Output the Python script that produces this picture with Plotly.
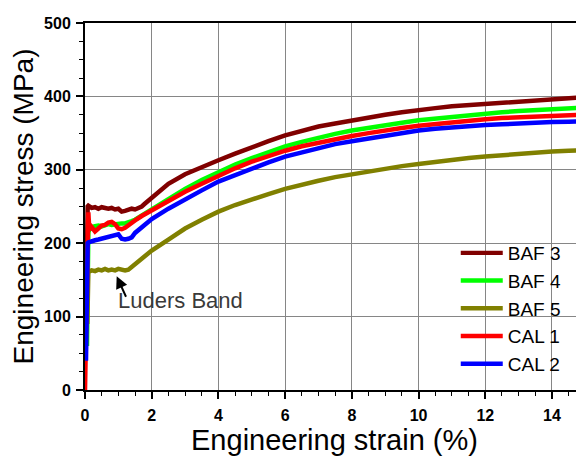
import plotly.graph_objects as go

# ---- data ----
baf3_x = [0.04, 0.05, 0.06, 0.08, 0.1, 0.2, 0.3, 0.4, 0.5, 0.6, 0.7, 0.8, 0.9, 1.0, 1.1, 1.2, 1.3, 1.4, 1.5, 1.6, 1.7, 1.8, 2.0, 2.25, 2.5, 3.0, 3.5, 4.0, 4.5, 5.0, 5.5, 6.0, 6.5, 7.0, 7.5, 8.0, 8.5, 9.0, 9.5, 10.0, 10.5, 11.0, 11.5, 12.0, 12.5, 13.0, 13.5, 14.0, 14.5, 15.0]
baf3_y = [120, 180, 230, 250, 251, 248, 249, 247, 249, 248, 247, 248, 246, 247, 243, 244, 245, 247, 246, 248, 250, 254, 262, 272, 281, 294, 304, 313, 322, 331, 339, 347, 353, 359, 363, 367.5, 371, 375, 378.5, 382, 384, 386.5, 388, 390, 392, 394, 395.5, 397, 398, 399]

baf4_x = [0.06, 0.07, 0.08, 0.1, 0.15, 0.2, 0.3, 0.4, 0.5, 0.6, 0.7, 0.8, 0.9, 1.0, 1.1, 1.2, 1.3, 1.4, 1.5, 1.7, 2.0, 2.5, 3.0, 3.5, 4.0, 4.5, 5.0, 5.5, 6.0, 6.5, 7.0, 7.5, 8.0, 8.5, 9.0, 9.5, 10.0, 10.5, 11.0, 11.5, 12.0, 12.5, 13.0, 13.5, 14.0, 14.5, 15.0]
baf4_y = [60, 140, 190, 215, 220, 222, 223, 224, 223, 225, 226, 225, 226, 226, 227, 227, 228, 230, 232, 238, 246, 260, 274, 286, 297, 307, 316, 324, 332, 338, 344, 349, 353.5, 357.5, 361, 364, 367.5, 370, 372.5, 375, 377, 378.5, 380, 381, 382, 383.5, 385]

baf5_x = [0.07, 0.08, 0.09, 0.1, 0.2, 0.3, 0.4, 0.5, 0.6, 0.7, 0.8, 0.9, 1.0, 1.1, 1.2, 1.3, 1.4, 1.5, 1.7, 2.0, 2.5, 3.0, 3.5, 4.0, 4.5, 5.0, 5.5, 6.0, 6.5, 7.0, 7.5, 8.0, 8.5, 9.0, 9.5, 10.0, 10.5, 11.0, 11.5, 12.0, 12.5, 13.0, 13.5, 14.0, 14.5, 15.0]
baf5_y = [90, 130, 155, 161, 163, 162, 164, 163, 165, 163, 164, 163, 165, 164, 163, 164, 168, 172, 180, 190, 205, 220, 232, 243, 252, 260, 267, 274, 280, 285, 290, 294, 298, 302, 305, 308, 311, 314, 316, 318, 320, 322, 323.5, 325, 326, 327]

cal1_x = [0.0, 0.02, 0.03, 0.05, 0.07, 0.09, 0.1, 0.12, 0.15, 0.2, 0.3, 0.4, 0.5, 0.6, 0.7, 0.8, 0.9, 1.0, 1.1, 1.2, 1.3, 1.4, 1.5, 1.7, 2.0, 2.5, 3.0, 3.5, 4.0, 4.5, 5.0, 5.5, 6.0, 6.5, 7.0, 7.5, 8.0, 8.5, 9.0, 9.5, 10.0, 10.5, 11.0, 11.5, 12.0, 12.5, 13.0, 13.5, 14.0, 14.5, 15.0]
cal1_y = [0, 40, 75, 150, 200, 235, 242, 226, 218, 222, 216, 220, 224, 225, 228, 229, 226, 220, 219, 221, 225, 228, 231, 237, 245, 258, 270, 281, 292, 302, 311, 319, 326, 332, 337, 342, 346, 350, 354, 357, 360, 362.5, 365, 367, 369, 370.5, 371.5, 372.5, 373, 374, 375]

cal2_x = [0.03, 0.04, 0.05, 0.06, 0.08, 0.1, 0.2, 0.3, 0.4, 0.5, 0.6, 0.7, 0.8, 0.9, 1.0, 1.1, 1.2, 1.3, 1.4, 1.5, 1.7, 2.0, 2.5, 3.0, 3.5, 4.0, 4.5, 5.0, 5.5, 6.0, 6.5, 7.0, 7.5, 8.0, 8.5, 9.0, 9.5, 10.0, 10.5, 11.0, 11.5, 12.0, 12.5, 13.0, 13.5, 14.0, 14.5, 15.0]
cal2_y = [40, 80, 150, 190, 200, 201, 203, 204, 205, 206, 207, 208, 209, 210, 212, 206, 205, 206, 208, 214, 221, 233, 247, 260, 272, 284, 293, 302, 310, 318, 324, 330, 335, 339, 343, 347, 350.5, 353.5, 356, 358, 359.5, 361, 362, 363.5, 364, 365, 365.5, 366]

series = [
    ("BAF 3", baf3_x, baf3_y, "#800000"),
    ("BAF 4", baf4_x, baf4_y, "#00FF00"),
    ("BAF 5", baf5_x, baf5_y, "#808000"),
    ("CAL 1", cal1_x, cal1_y, "#FF0000"),
    ("CAL 2", cal2_x, cal2_y, "#0000FF"),
]

FONT = "Arial, Liberation Sans, sans-serif"

fig = go.Figure()
for name, xs, ys, col in series:
    fig.add_trace(go.Scatter(x=xs, y=ys, mode="lines", name=name,
                             line=dict(color=col, width=4.5)))

# the page body has an 8px default margin, so the figure is sized 576x448
fig.update_layout(
    width=576, height=448,
    margin=dict(l=77, r=0, t=15, b=66, autoexpand=False),
    paper_bgcolor="white", plot_bgcolor="white",
    font=dict(family=FONT, color="black"),
    showlegend=True,
    legend=dict(x=0.743, y=0.425, xanchor="left", yanchor="top",
                bgcolor="rgba(0,0,0,0)", font=dict(size=19, family=FONT, color="black"),
                tracegroupgap=0, itemwidth=42),
)

fig.update_xaxes(
    range=[0, 14.96], dtick=2, tick0=0, automargin=False,
    showline=True, linecolor="black", linewidth=1.5, mirror=True,
    showgrid=True, gridcolor="#868686", gridwidth=1, zeroline=False,
    ticks="outside", ticklen=7, tickwidth=1.5, tickcolor="black",
    minor=dict(dtick=0.5, ticks="outside", ticklen=4, tickcolor="black", tickwidth=1.2, showgrid=False),
    tickfont=dict(size=16, family=FONT, color="black", weight="bold"),
    ticklabelstandoff=3,
    title=dict(text="Engineering strain (%)", font=dict(size=29, family=FONT, color="black"), standoff=2),
)
fig.update_yaxes(
    range=[0, 500], dtick=100, tick0=0, automargin=False,
    showline=True, linecolor="black", linewidth=2, mirror=False,
    showgrid=True, gridcolor="#868686", gridwidth=1, zeroline=False,
    ticks="outside", ticklen=7, tickwidth=1.5, tickcolor="black",
    minor=dict(dtick=25, ticks="outside", ticklen=4, tickcolor="black", tickwidth=1.2, showgrid=False),
    tickfont=dict(size=16, family=FONT, color="black", weight="bold"),
    ticklabelstandoff=2,
    title=dict(text="Engineering stress (MPa)", font=dict(size=28, family=FONT, color="black"), standoff=4),
)

# Luders band annotation
fig.add_annotation(x=0.95, y=155, xref="x", yref="y", text="", showarrow=True,
                   ax=10, ay=22, axref="pixel", ayref="pixel",
                   arrowhead=2, arrowsize=1.2, arrowwidth=2, arrowcolor="black")
fig.add_annotation(x=2.85, y=122, xref="x", yref="y", text="Luders Band", showarrow=False,
                   font=dict(size=22, family=FONT, color="#3a3a3a"))

fig.write_html("out.html")
